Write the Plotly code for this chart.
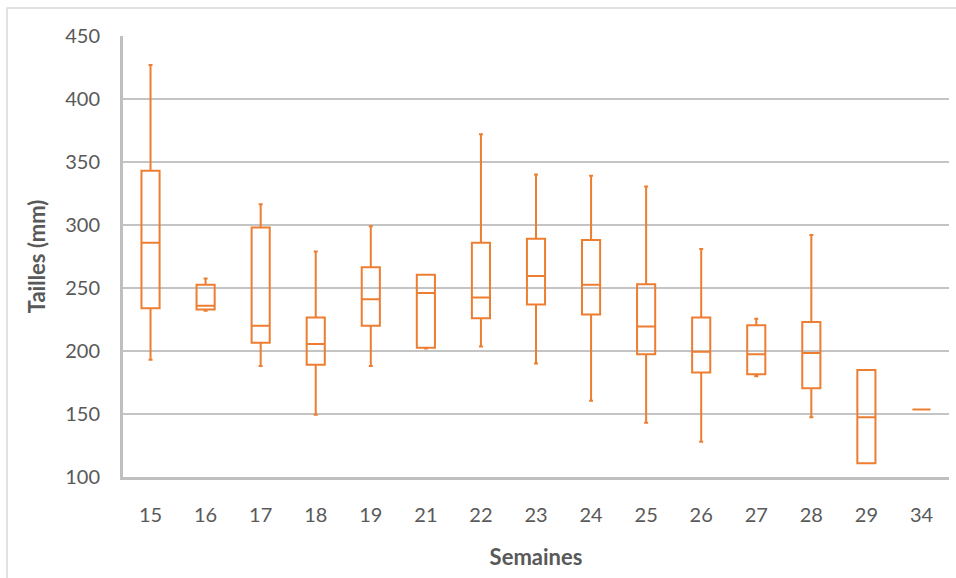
import plotly.graph_objects as go

# Weekly size distributions (mm): five-number summaries per week
semaines = ["15", "16", "17", "18", "19", "21", "22", "23", "24", "25", "26", "27", "28", "29", "34"]
minimum = [193, 232, 188, 149.5, 188, 202, 203.5, 190, 160.5, 143, 128, 180, 147.5, 111, 153.5]
q1 = [234, 233, 206.5, 189, 220, 202.5, 226, 237, 229, 197.5, 183, 181.5, 170.5, 111, 153.5]
mediane = [286, 236, 220, 205.5, 241, 246, 242.5, 259.5, 252.5, 219.5, 199.5, 197.5, 198.5, 147.5, 153.5]
q3 = [343, 252.5, 298, 226.5, 266.5, 260.5, 286, 289, 288, 253, 226.5, 220.5, 223, 185, 153.5]
maximum = [427, 257.5, 316.5, 279, 299, 260.5, 372, 340, 339, 330.5, 281, 225.5, 292, 185, 153.5]

ORANGE = "#ED7D31"
GRID = "#c4c4c4"
TEXT = "#595959"
FONT = "Lato"

fig = go.Figure(
    go.Box(
        x=semaines,
        q1=q1,
        median=mediane,
        q3=q3,
        lowerfence=minimum,
        upperfence=maximum,
        line=dict(color=ORANGE, width=2),
        fillcolor="rgba(255,255,255,0)",
        whiskerwidth=0.22,
        boxpoints=False,
        hoverinfo="skip",
        showlegend=False,
    )
)

fig.update_layout(
    width=956,
    height=578,
    margin=dict(l=123, r=7, t=36, b=101),
    paper_bgcolor="white",
    plot_bgcolor="white",
    boxgap=0.53,
    font=dict(family=FONT, color=TEXT, size=20),
    xaxis=dict(
        type="category",
        categoryorder="array",
        categoryarray=semaines,
        showgrid=False,
        showline=True,
        linecolor="#bfbfbf",
        linewidth=3,
        ticks="",
        ticklabelstandoff=18,
        tickfont=dict(family=FONT, size=20, color=TEXT),
        title=dict(
            text="<b>Semaines</b>",
            font=dict(family=FONT, size=22, color=TEXT),
            standoff=25,
        ),
    ),
    yaxis=dict(
        range=[100, 450],
        tickvals=[100, 150, 200, 250, 300, 350, 400, 450],
        showgrid=True,
        gridcolor=GRID,
        gridwidth=1.8,
        zeroline=False,
        showline=True,
        linecolor="#bfbfbf",
        linewidth=3,
        ticks="",
        ticklabelstandoff=16,
        tickfont=dict(family=FONT, size=20, color=TEXT),
        title=dict(
            text="<b>Tailles (mm)</b>",
            font=dict(family=FONT, size=22, color=TEXT),
            standoff=14,
        ),
    ),
    shapes=[
        dict(
            type="rect",
            xref="paper",
            yref="paper",
            x0=-0.1404,
            x1=1.2,
            y0=-0.5,
            y1=1.0635,
            line=dict(color="#d9d9d9", width=1.5),
            fillcolor="rgba(0,0,0,0)",
            layer="below",
        )
    ],
)

fig.write_html("out.html")
